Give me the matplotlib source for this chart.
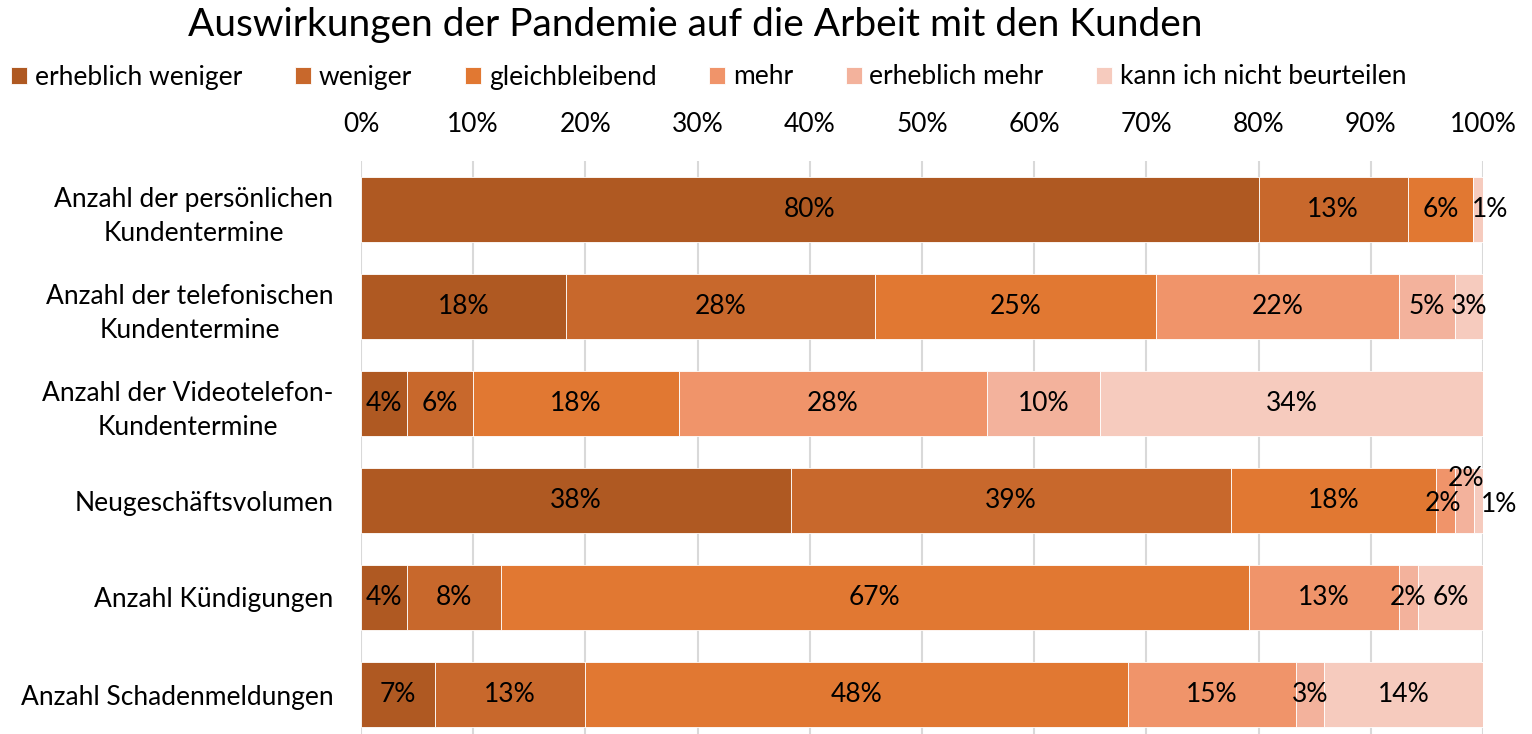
import matplotlib
matplotlib.use('Agg')
import matplotlib.pyplot as plt
import numpy as np

plt.rcParams['font.family'] = ['Lato', 'DejaVu Sans']

# data
categories = ['Anzahl der persönlichen\nKundentermine',
              'Anzahl der telefonischen\nKundentermine',
              'Anzahl der Videotelefon-\nKundentermine',
              'Neugeschäftsvolumen',
              'Anzahl Kündigungen',
              'Anzahl Schadenmeldungen']
series_names = ['erheblich weniger', 'weniger', 'gleichbleibend', 'mehr',
                'erheblich mehr', 'kann ich nicht beurteilen']
erheblich_weniger = [80.0, 18.3, 4.1, 38.3, 4.1, 6.6]
weniger = [13.3, 27.5, 5.9, 39.2, 8.4, 13.4]
gleichbleibend = [5.8, 25.1, 18.3, 18.3, 66.6, 48.4]
mehr = [0.0, 21.6, 27.5, 1.7, 13.4, 14.9]
erheblich_mehr = [0.0, 5.0, 10.1, 1.7, 1.7, 2.5]
kann_nicht = [0.9, 2.5, 34.1, 0.8, 5.8, 14.2]
label_texts = [
    ['80%', '13%', '6%', '', '', '1%'],
    ['18%', '28%', '25%', '22%', '5%', '3%'],
    ['4%', '6%', '18%', '28%', '10%', '34%'],
    ['38%', '39%', '18%', '2%', '2%', '1%'],
    ['4%', '8%', '67%', '13%', '2%', '6%'],
    ['7%', '13%', '48%', '15%', '3%', '14%'],
]

colors = ['#AF5922', '#C8682C', '#E17832', '#F0946A', '#F3B29C', '#F6CBBE']
series = [erheblich_weniger, weniger, gleichbleibend, mehr, erheblich_mehr, kann_nicht]

# manual nudges (points) for crowded labels
nudges = {(0, 5): (9, 0), (3, 3): (-2, -2), (3, 4): (1, 16), (3, 5): (15, -3)}

fs = 19
fig = plt.figure(figsize=(15.32, 7.34), dpi=100)
ax = fig.add_axes([361 / 1532, 1 - 743 / 734, (1483 - 361) / 1532, 582 / 734])

y = np.arange(len(categories))
left = np.zeros(len(categories))
for i, (vals, col, name) in enumerate(zip(series, colors, series_names)):
    vals = np.array(vals)
    ax.barh(y, vals, left=left, height=0.67, color=col, edgecolor='white',
            linewidth=0.6, label=name, zorder=2)
    for r in range(len(categories)):
        txt = label_texts[r][i]
        if txt:
            dx, dy = nudges.get((r, i), (0, 0))
            ax.annotate(txt, (left[r] + vals[r] / 2, y[r]), xytext=(dx, dy),
                        textcoords='offset points', ha='center', va='center',
                        fontsize=fs, color='black', zorder=3)
    left += vals

ax.set_xlim(0, 100)
ax.set_ylim(len(categories) - 0.5, -0.5)
ax.set_xticks(np.arange(0, 101, 10))
ax.set_xticklabels([f'{v}%' for v in range(0, 101, 10)], fontsize=fs)
ax.xaxis.tick_top()
ax.tick_params(axis='x', length=0, pad=17)
ax.set_yticks(y)
ax.set_yticklabels(categories, fontsize=fs, multialignment='center', linespacing=1.45)
ax.tick_params(axis='y', length=0, pad=20)
ax.grid(axis='x', color='#D9D9D9', linewidth=1.5, zorder=0)
ax.set_axisbelow(True)
for s in ax.spines.values():
    s.set_visible(False)

fig.text(695 / 1532, 1 - 25 / 734, 'Auswirkungen der Pandemie auf die Arbeit mit den Kunden',
         ha='center', va='center', fontsize=28)
fig.legend(loc='center', bbox_to_anchor=(709 / 1532, 1 - 77 / 734), ncol=6,
           frameon=False, fontsize=fs, handlelength=0.6, handleheight=0.6,
           handletextpad=0.3, columnspacing=2.0, borderpad=0, borderaxespad=0)

plt.savefig('out.png', dpi=100)
